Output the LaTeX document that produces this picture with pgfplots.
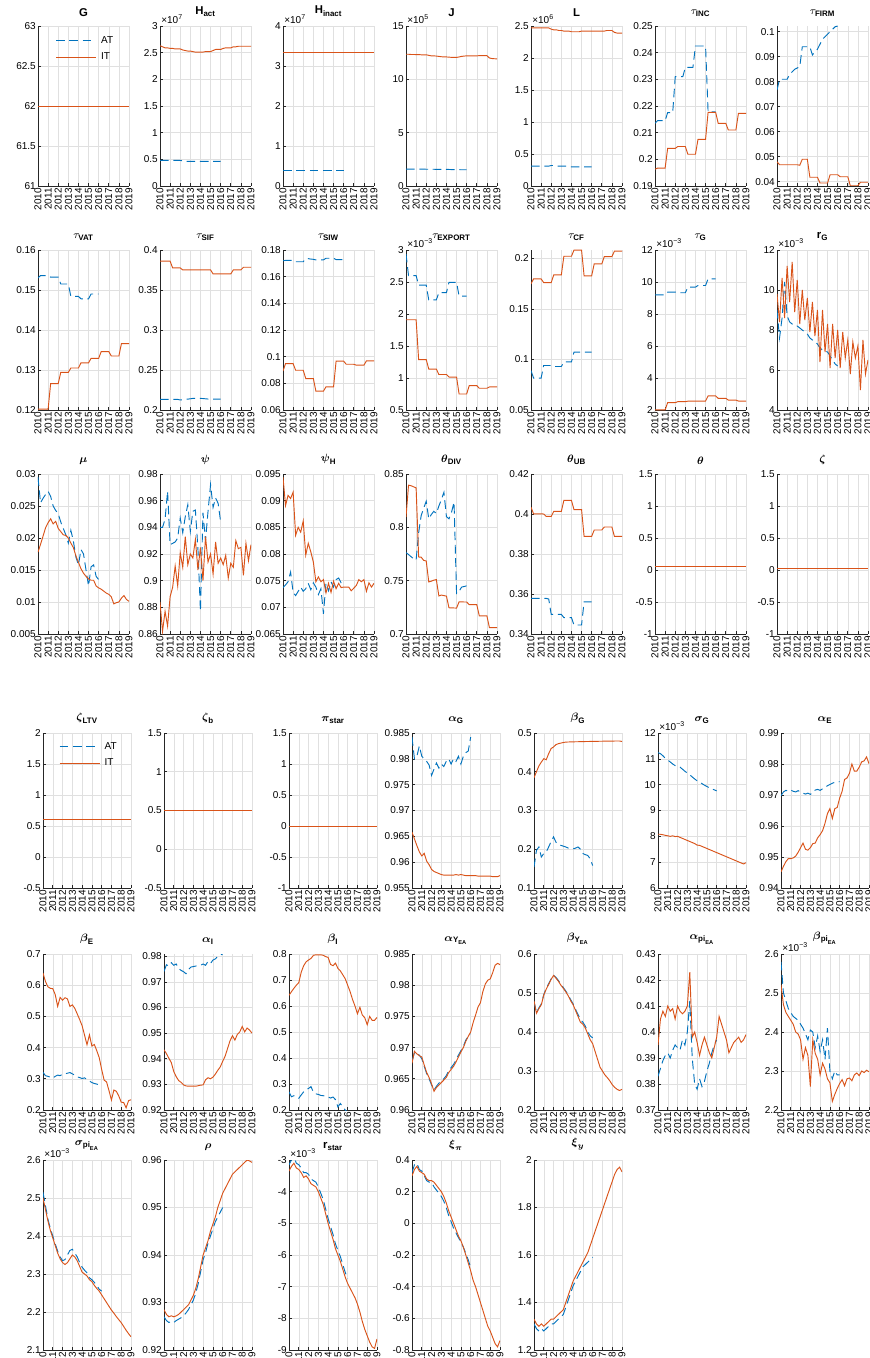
\documentclass[border=0pt]{standalone}
\usepackage{amsmath}
\usepackage{fontspec}
\setmainfont{Liberation Sans}
\usepackage{pgfplots}
\pgfplotsset{compat=1.18}

\definecolor{cAT}{RGB}{0,114,189}
\definecolor{cIT}{RGB}{217,83,25}

\newcommand{\tk}{\fontsize{7.5}{8}\selectfont}
\newcommand{\ttl}{\fontsize{8.5}{9}\selectfont\bfseries}

% quarterly series 2010Q1 ... given as a comma list of values
\newcommand{\mkcoords}[1]{%
  \gdef\qcoords{}%
  \foreach \qv [count=\qi from 0] in {#1}{%
    \pgfmathsetmacro{\qx}{2010+0.25*\qi}%
    \xdef\qcoords{\qcoords (\qx,\qv)}%
  }}
\newcommand{\IT}[1]{\mkcoords{#1}\edef\qtmp{\noexpand\addplot[itline] coordinates {\qcoords};}\qtmp}
\newcommand{\AT}[1]{\mkcoords{#1}\edef\qtmp{\noexpand\addplot[atline] coordinates {\qcoords};}\qtmp}
\newcommand{\ITc}[1]{\addplot[itline] coordinates {(2010,#1) (2019,#1)};}
\newcommand{\ATc}[1]{\addplot[atline] coordinates {(2010,#1) (2016,#1)};}
\newcommand{\expo}[1]{\node[anchor=base west, inner sep=0pt, font=\tk] at ([xshift=0.8pt,yshift=2pt]rel axis cs:0,1) {×10\textsuperscript{#1}};}

\pgfplotsset{
  itline/.style={color=cIT, line width=0.7pt, solid, mark=none},
  atline/.style={color=cAT, line width=0.7pt, dash pattern=on 6.5pt off 3.5pt, mark=none},
  pos/.style 2 args={at={(#1*0.75pt,-#2*0.75pt)}},
  base/.style={
    scale only axis, anchor=north west, clip mode=individual,
    xmin=2010, xmax=2019, xtick={2010,2011,2012,2013,2014,2015,2016,2017,2018,2019},
    axis x line*=bottom, axis y line*=left,
    axis line style={-, draw=black!85, line width=0.5pt},
    tick align=inside, major tick length=2pt,
    tick style={black!85, line width=0.5pt},
    grid=major, grid style={black!12, line width=0.4pt},
    /pgf/number format/assume math mode=true,
    xticklabel style={rotate=90, anchor=east, font=\tk, inner sep=1.5pt,
      /pgf/number format/1000 sep={}},
    yticklabel style={font=\tk, inner sep=1.5pt,
      /pgf/number format/fixed, /pgf/number format/precision=4},
    title style={font=\ttl, at={(0.5,1)}, anchor=south, yshift=1.2pt, inner sep=0pt},
    enlargelimits=false, scaled y ticks=false,
    legend image code/.code={\draw[##1] (0pt,0pt) -- (30pt,0pt);},
    legend style={draw=none, fill=none, font=\tk, anchor=north west, inner sep=0pt,
      row sep=2pt, column sep=1.5pt, cells={anchor=west}},
  },
  fA/.style={base, width=68.25pt, height=120pt},
  fB/.style={base, width=66pt, height=116.25pt},
  fC/.style={base, width=66pt, height=117pt},
  fD/.style={base, width=66pt, height=142.5pt},
}

\begin{document}
\begin{tikzpicture}
\path[use as bounding box] (0pt,0pt) rectangle (651.75pt,-1018.5pt);

% ---------------- first block ----------------
\begin{axis}[fA, pos={38}{26}, title={G}, ymin=61, ymax=63, ytick={61,61.5,62,62.5,63},
  legend style={at={(0.19,0.955)}}]
\ATc{62}
\ITc{62}
\legend{AT,IT}
\end{axis}

\begin{axis}[fA, pos={160}{26}, title={$\textbf{H}_{\textbf{act}}$}, ymin=0, ymax=3, ytick={0,0.5,1,1.5,2,2.5,3}]
\AT{0.48,0.48,0.48,0.48,0.48,0.48,0.48,0.48,0.48,0.47,0.46,0.46,0.46,0.46,0.46,0.46,0.46,0.46,0.46,0.46,0.46,0.46,0.46,0.46,0.46}
\IT{2.63,2.61,2.59,2.59,2.58,2.58,2.57,2.57,2.57,2.55,2.54,2.53,2.53,2.52,2.51,2.51,2.51,2.51,2.52,2.52,2.52,2.54,2.56,2.56,2.56,2.58,2.59,2.59,2.59,2.61,2.61,2.62,2.62,2.62,2.62,2.62,2.62}
\expo{7}
\end{axis}

\begin{axis}[fA, pos={283}{26}, title={$\textbf{H}_{\textbf{inact}}$}, ymin=0, ymax=4, ytick={0,1,2,3,4}]
\ATc{0.40}
\ITc{3.35}
\expo{7}
\end{axis}

\begin{axis}[fA, pos={406}{26}, title={J}, ymin=0, ymax=15, ytick={0,5,10,15}]
\AT{1.58,1.58,1.58,1.58,1.58,1.58,1.58,1.58,1.57,1.57,1.57,1.57,1.56,1.56,1.56,1.56,1.55,1.55,1.54,1.54,1.53,1.53,1.52,1.52,1.52}
\IT{12.35,12.35,12.33,12.33,12.32,12.32,12.30,12.30,12.30,12.25,12.20,12.20,12.18,12.15,12.12,12.10,12.10,12.08,12.06,12.05,12.05,12.10,12.15,12.18,12.20,12.20,12.20,12.20,12.20,12.22,12.22,12.22,12.22,12.00,11.95,11.93,11.92}
\expo{5}
\end{axis}

\begin{axis}[fA, pos={531}{26}, title={L}, ymin=0, ymax=2.5, ytick={0,0.5,1,1.5,2,2.5}]
\AT{0.31,0.31,0.31,0.31,0.31,0.31,0.31,0.31,0.32,0.32,0.31,0.31,0.31,0.31,0.31,0.30,0.30,0.30,0.30,0.30,0.30,0.30,0.30,0.30,0.30}
\IT{2.47,2.47,2.47,2.47,2.47,2.47,2.47,2.47,2.45,2.44,2.44,2.43,2.43,2.42,2.42,2.42,2.41,2.41,2.41,2.41,2.42,2.42,2.42,2.42,2.42,2.42,2.42,2.42,2.42,2.42,2.43,2.43,2.43,2.40,2.39,2.39,2.39}
\expo{6}
\end{axis}

\begin{axis}[fA, pos={655}{26}, title={$\tau_{\textbf{INC}}$}, ymin=0.19, ymax=0.25, ytick={0.19,0.2,0.21,0.22,0.23,0.24,0.25}]
\AT{0.2135,0.2145,0.2145,0.2145,0.2145,0.2175,0.2175,0.2175,0.2310,0.2310,0.2310,0.2310,0.2345,0.2345,0.2345,0.2345,0.2425,0.2425,0.2425,0.2425,0.2425,0.2178,0.2178,0.2178,0.2178}
\IT{0.1963,0.1967,0.1967,0.1967,0.1967,0.2041,0.2041,0.2041,0.2041,0.2048,0.2048,0.2048,0.2048,0.2019,0.2019,0.2019,0.2019,0.2075,0.2075,0.2075,0.2075,0.2176,0.2176,0.2176,0.2176,0.2135,0.2135,0.2135,0.2135,0.2110,0.2110,0.2110,0.2110,0.2172,0.2172,0.2172,0.2172}
\end{axis}

\begin{axis}[fA, pos={777}{26}, title={$\tau_{\textbf{FIRM}}$}, ymin=0.0383, ymax=0.1023, ytick={0.04,0.05,0.06,0.07,0.08,0.09,0.1}]
\AT{0.0767,0.0810,0.0810,0.0810,0.0810,0.0830,0.0840,0.0850,0.0855,0.0860,0.0940,0.0940,0.0940,0.0940,0.0907,0.0920,0.0930,0.0950,0.0970,0.0980,0.0990,0.1000,0.1010,0.1020,0.1023}
\IT{0.0480,0.0468,0.0468,0.0468,0.0468,0.0468,0.0468,0.0468,0.0468,0.0466,0.0490,0.0490,0.0490,0.0418,0.0418,0.0418,0.0418,0.0395,0.0395,0.0395,0.0395,0.0428,0.0428,0.0428,0.0428,0.0420,0.0420,0.0420,0.0420,0.0384,0.0384,0.0384,0.0384,0.0398,0.0398,0.0398,0.0398}
\end{axis}

% row 2
\begin{axis}[fA, pos={38}{250}, title={$\tau_{\textbf{VAT}}$}, ymin=0.12, ymax=0.16, ytick={0.12,0.13,0.14,0.15,0.16}]
\AT{0.1530,0.1536,0.1536,0.1536,0.1536,0.1532,0.1532,0.1532,0.1532,0.1515,0.1515,0.1515,0.1515,0.1484,0.1484,0.1484,0.1484,0.1478,0.1478,0.1478,0.1478,0.1490,0.1490,0.1490,0.1490}
\IT{0.1202,0.1202,0.1202,0.1202,0.1202,0.1266,0.1266,0.1266,0.1266,0.1294,0.1294,0.1294,0.1294,0.1305,0.1305,0.1305,0.1305,0.1318,0.1318,0.1318,0.1318,0.1329,0.1329,0.1329,0.1329,0.1346,0.1346,0.1346,0.1346,0.1335,0.1335,0.1335,0.1335,0.1366,0.1366,0.1366,0.1366}
\end{axis}

\begin{axis}[fA, pos={160}{250}, title={$\tau_{\textbf{SIF}}$}, ymin=0.2, ymax=0.4, ytick={0.2,0.25,0.3,0.35,0.4}]
\AT{0.2133,0.2133,0.2133,0.2133,0.2133,0.2133,0.2133,0.2133,0.2125,0.2128,0.2133,0.2136,0.2140,0.2145,0.2145,0.2145,0.2145,0.2143,0.2140,0.2137,0.2135,0.2135,0.2135,0.2135,0.2135}
\IT{0.386,0.386,0.386,0.386,0.386,0.3776,0.3776,0.3776,0.3776,0.3751,0.3751,0.3751,0.3751,0.3751,0.3751,0.3751,0.3751,0.3751,0.3751,0.3751,0.3751,0.3701,0.3701,0.3701,0.3701,0.3701,0.3701,0.3701,0.3701,0.3751,0.3751,0.3751,0.3751,0.3784,0.3784,0.3784,0.3784}
\end{axis}

\begin{axis}[fA, pos={283}{250}, title={$\tau_{\textbf{SIW}}$}, ymin=0.06, ymax=0.18, ytick={0.06,0.08,0.1,0.12,0.14,0.16,0.18}]
\AT{0.1720,0.1722,0.1722,0.1722,0.1722,0.1712,0.1712,0.1712,0.1712,0.1735,0.1735,0.1732,0.1730,0.1726,0.1726,0.1726,0.1726,0.1738,0.1738,0.1738,0.1738,0.1728,0.1728,0.1728,0.1728}
\IT{0.0893,0.0948,0.0948,0.0948,0.0948,0.0898,0.0898,0.0898,0.0898,0.0836,0.0836,0.0836,0.0836,0.0741,0.0741,0.0741,0.0741,0.0774,0.0774,0.0774,0.0774,0.0966,0.0966,0.0966,0.0966,0.0943,0.0943,0.0943,0.0943,0.0936,0.0936,0.0936,0.0936,0.0968,0.0968,0.0968,0.0968}
\end{axis}

\begin{axis}[fA, pos={406}{250}, title={$\tau_{\textbf{EXPORT}}$}, ymin=0.5, ymax=3, ytick={0.5,1,1.5,2,2.5,3}]
\AT{2.94,2.6,2.6,2.6,2.6,2.45,2.45,2.45,2.45,2.22,2.22,2.22,2.22,2.335,2.335,2.335,2.335,2.495,2.495,2.495,2.495,2.28,2.28,2.28,2.28}
\IT{1.91,1.91,1.91,1.91,1.91,1.288,1.288,1.288,1.288,1.14,1.14,1.14,1.14,1.055,1.055,1.055,1.055,1.015,1.015,1.015,1.015,0.75,0.75,0.75,0.75,0.88,0.88,0.88,0.88,0.84,0.84,0.84,0.84,0.86,0.86,0.86,0.86}
\expo{−3}
\end{axis}

\begin{axis}[fA, pos={531}{250}, title={$\tau_{\textbf{CF}}$}, ymin=0.05, ymax=0.2082, ytick={0.05,0.1,0.15,0.2}]
\AT{0.089,0.0816,0.0816,0.0816,0.0816,0.094,0.094,0.094,0.094,0.093,0.093,0.093,0.093,0.0975,0.0975,0.0975,0.0975,0.1072,0.1072,0.1072,0.1072,0.1072,0.1072,0.1072,0.1072}
\IT{0.1747,0.1796,0.1796,0.1796,0.1796,0.176,0.176,0.176,0.176,0.1836,0.1836,0.1836,0.1836,0.202,0.202,0.202,0.202,0.2081,0.2081,0.2081,0.2081,0.1827,0.1827,0.1827,0.1827,0.1945,0.1945,0.1945,0.1945,0.2017,0.2017,0.2017,0.2017,0.207,0.207,0.207,0.207}
\end{axis}

\begin{axis}[fA, pos={655}{250}, title={$\tau_{\textbf{G}}$}, ymin=2, ymax=12, ytick={2,4,6,8,10,12}]
\AT{9.2,9.2,9.2,9.2,9.2,9.37,9.37,9.37,9.37,9.33,9.33,9.33,9.33,9.68,9.68,9.68,9.68,9.78,9.78,9.78,9.78,10.2,10.2,10.2,10.2}
\IT{2.01,2.01,2.01,2.01,2.01,2.46,2.46,2.46,2.46,2.52,2.52,2.52,2.52,2.55,2.55,2.55,2.55,2.56,2.56,2.56,2.56,2.88,2.88,2.88,2.88,2.73,2.73,2.73,2.73,2.62,2.62,2.62,2.62,2.56,2.56,2.56,2.56}
\expo{−3}
\end{axis}

\begin{axis}[fA, pos={777}{250}, title={$\textbf{r}_{\textbf{G}}$}, ymin=4, ymax=12, ytick={4,6,8,10,12}]
\AT{9.0,7.6,8.6,10.4,8.7,8.4,8.3,8.2,8.2,8.1,8.0,7.9,7.8,7.6,7.5,7.4,7.3,7.1,7.0,6.95,6.9,6.7,6.5,6.3,6.2}
\IT{9.8,8.4,10.6,8.6,11.2,9.4,11.4,8.9,10.5,8.3,10.0,8.5,9.6,7.9,9.4,7.7,9.0,6.4,9.0,6.9,8.3,6.1,8.3,6.6,8.0,6.1,7.9,6.6,7.5,5.8,7.4,6.6,7.2,5.0,7.5,5.8,6.5}
\expo{−3}
\end{axis}

% row 3
\begin{axis}[fA, pos={38}{474}, title={$\boldsymbol{\mu}$}, ymin=0.005, ymax=0.03, ytick={0.005,0.01,0.015,0.02,0.025,0.03}]
\AT{0.0295,0.0255,0.0262,0.0268,0.0273,0.0265,0.0250,0.0243,0.0238,0.0225,0.0215,0.0205,0.0192,0.0212,0.0195,0.0170,0.0158,0.0182,0.0175,0.0150,0.0125,0.0155,0.0158,0.0140,0.0135}
\IT{0.0178,0.0190,0.0203,0.0216,0.0224,0.0230,0.0222,0.0226,0.0215,0.0210,0.0205,0.0204,0.0200,0.0192,0.0185,0.0172,0.0162,0.0152,0.0145,0.0140,0.0136,0.0134,0.0134,0.0125,0.0122,0.0120,0.0117,0.0114,0.0112,0.0108,0.0097,0.0099,0.0100,0.0106,0.0110,0.0104,0.0101}
\end{axis}

\begin{axis}[fA, pos={160}{474}, title={$\boldsymbol{\psi}$}, ymin=0.86, ymax=0.98, ytick={0.86,0.88,0.9,0.92,0.94,0.96,0.98}]
\AT{0.940,0.940,0.946,0.967,0.927,0.928,0.929,0.932,0.947,0.936,0.948,0.957,0.937,0.952,0.953,0.924,0.877,0.951,0.930,0.952,0.972,0.955,0.962,0.958,0.944}
\IT{0.884,0.862,0.877,0.866,0.888,0.895,0.911,0.896,0.921,0.910,0.933,0.912,0.920,0.917,0.931,0.908,0.925,0.900,0.933,0.914,0.920,0.905,0.929,0.913,0.917,0.912,0.919,0.902,0.913,0.910,0.930,0.924,0.925,0.904,0.928,0.915,0.927}
\end{axis}

\begin{axis}[fA, pos={283}{474}, title={$\boldsymbol{\psi}_{\textbf{H}}$}, ymin=0.065, ymax=0.095, ytick={0.065,0.07,0.075,0.08,0.085,0.09,0.095}]
\AT{0.0737,0.0742,0.0748,0.0766,0.0728,0.0722,0.0730,0.0738,0.0730,0.0735,0.0745,0.0733,0.0746,0.0738,0.0724,0.0735,0.0688,0.0745,0.0731,0.0748,0.0738,0.0752,0.0755,0.0746,0.0746}
\IT{0.0944,0.0891,0.0910,0.0904,0.0916,0.0835,0.0850,0.0841,0.0862,0.0798,0.0820,0.0804,0.0785,0.0748,0.0757,0.0748,0.0752,0.0727,0.0745,0.0728,0.0749,0.0735,0.0745,0.0737,0.0738,0.0738,0.0738,0.0731,0.0736,0.0741,0.0752,0.0748,0.0752,0.0730,0.0746,0.0738,0.0745}
\end{axis}

\begin{axis}[fA, pos={406}{474}, title={$\boldsymbol{\theta}_{\textbf{DIV}}$}, ymin=0.7, ymax=0.85, ytick={0.7,0.75,0.8,0.85}]
\AT{0.7763,0.7745,0.7725,0.7705,0.7693,0.7950,0.8110,0.8180,0.8245,0.8080,0.8120,0.8150,0.8130,0.8200,0.8260,0.8329,0.8100,0.8080,0.8140,0.8236,0.7380,0.7400,0.7440,0.7445,0.7452}
\IT{0.8095,0.8395,0.8390,0.8380,0.8370,0.7722,0.7720,0.7690,0.7685,0.7488,0.7495,0.7505,0.7510,0.7357,0.7365,0.7360,0.7355,0.7246,0.7245,0.7244,0.7243,0.7302,0.7302,0.7300,0.7300,0.7275,0.7275,0.7275,0.7275,0.7170,0.7170,0.7170,0.7170,0.7060,0.7060,0.7060,0.7060}
\end{axis}

\begin{axis}[fA, pos={531}{474}, title={$\boldsymbol{\theta}_{\textbf{UB}}$}, ymin=0.34, ymax=0.42, ytick={0.34,0.36,0.38,0.4,0.42}]
\AT{0.3578,0.3578,0.3578,0.3578,0.3578,0.3578,0.3578,0.3575,0.3498,0.3498,0.3498,0.3498,0.3498,0.3482,0.3482,0.3482,0.3482,0.3445,0.3445,0.3445,0.3445,0.3561,0.3561,0.3561,0.3561}
\IT{0.4034,0.4001,0.4001,0.4001,0.4001,0.4000,0.3988,0.3988,0.3988,0.4013,0.4013,0.4013,0.4013,0.4068,0.4068,0.4068,0.4068,0.4022,0.4022,0.4022,0.4022,0.3888,0.3888,0.3888,0.3888,0.3920,0.3920,0.3920,0.3920,0.3935,0.3935,0.3935,0.3935,0.3888,0.3888,0.3888,0.3888}
\end{axis}

\begin{axis}[fA, pos={655}{474}, title={$\boldsymbol{\theta}$}, ymin=-1, ymax=1.5, ytick={-1,-0.5,0,0.5,1,1.5}]
\ATc{0.05}
\ITc{0.05}
\end{axis}

\begin{axis}[fA, pos={777}{474}, title={$\boldsymbol{\zeta}$}, ymin=-1, ymax=1.5, ytick={-1,-0.5,0,0.5,1,1.5}]
\ATc{0.03}
\ITc{0.03}
\end{axis}

% ---------------- second block ----------------
\begin{axis}[fB, pos={43}{733}, title={$\boldsymbol{\zeta}_{\textbf{LTV}}$}, ymin=-0.5, ymax=2, ytick={-0.5,0,0.5,1,1.5,2},
  legend style={at={(0.18,0.96)}}]
\ATc{0.6}
\ITc{0.6}
\legend{AT,IT}
\end{axis}

\begin{axis}[fB, pos={164}{733}, title={$\boldsymbol{\zeta}_{\textbf{b}}$}, ymin=-0.5, ymax=1.5, ytick={-0.5,0,0.5,1,1.5}]
\ATc{0.5}
\ITc{0.5}
\end{axis}

\begin{axis}[fB, pos={289}{733}, title={$\boldsymbol{\pi}_{\textbf{star}}$}, ymin=-1, ymax=1.5, ytick={-1,-0.5,0,0.5,1,1.5}]
\ATc{0}
\ITc{0}
\end{axis}

\begin{axis}[fB, pos={412}{733}, title={$\boldsymbol{\alpha}_{\textbf{G}}$}, ymin=0.955, ymax=0.985, ytick={0.955,0.96,0.965,0.97,0.975,0.98,0.985}]
\AT{0.9842,0.9800,0.9805,0.9825,0.9805,0.9800,0.9795,0.9788,0.9768,0.9780,0.9792,0.9782,0.9790,0.9785,0.9795,0.9800,0.9790,0.9800,0.9795,0.9805,0.9790,0.9805,0.9812,0.9815,0.9842}
\IT{0.9658,0.9645,0.9632,0.9620,0.9612,0.9617,0.9602,0.9595,0.9586,0.9582,0.9580,0.9578,0.9576,0.9575,0.9575,0.9575,0.9575,0.9575,0.9576,0.9575,0.9576,0.9575,0.9574,0.9574,0.9574,0.9574,0.9574,0.9573,0.9573,0.9573,0.9573,0.9573,0.9573,0.9572,0.9572,0.9572,0.9574}
\end{axis}

\begin{axis}[fB, pos={534}{733}, title={$\boldsymbol{\beta}_{\textbf{G}}$}, ymin=0.1, ymax=0.5, ytick={0.1,0.2,0.3,0.4,0.5}]
\AT{0.154,0.197,0.206,0.180,0.189,0.193,0.206,0.220,0.232,0.218,0.214,0.210,0.208,0.206,0.203,0.2015,0.201,0.203,0.206,0.200,0.189,0.186,0.184,0.175,0.158}
\IT{0.3847,0.4000,0.4150,0.4250,0.4338,0.4310,0.4467,0.4600,0.4640,0.4700,0.4725,0.4740,0.4755,0.4765,0.4768,0.4770,0.4772,0.4774,0.4775,0.4777,0.4778,0.4780,0.4781,0.4782,0.4783,0.4785,0.4786,0.4787,0.4788,0.4789,0.4790,0.4791,0.4792,0.4793,0.4794,0.4794,0.4780}
\end{axis}

\begin{axis}[fB, pos={658}{733}, title={$\boldsymbol{\sigma}_{\textbf{G}}$}, ymin=6, ymax=12, ytick={6,7,8,9,10,11,12}]
\AT{11.24,11.20,11.12,11.02,10.95,10.88,10.80,10.74,10.70,10.68,10.60,10.52,10.45,10.38,10.30,10.22,10.15,10.10,10.04,9.98,9.93,9.88,9.84,9.80,9.76}
\IT{8.08,8.08,8.06,8.04,8.02,8.00,8.02,7.99,8.00,7.96,7.92,7.88,7.84,7.80,7.76,7.72,7.66,7.65,7.61,7.57,7.53,7.49,7.45,7.41,7.37,7.33,7.29,7.25,7.21,7.17,7.13,7.09,7.05,7.01,6.97,6.93,6.98}
\expo{−3}
\end{axis}

\begin{axis}[fB, pos={781}{733}, title={$\boldsymbol{\alpha}_{\textbf{E}}$}, ymin=0.94, ymax=0.99, ytick={0.94,0.95,0.96,0.97,0.98,0.99}]
\AT{0.9698,0.9710,0.9715,0.9712,0.9716,0.9712,0.9710,0.9714,0.9710,0.9706,0.9703,0.9706,0.9702,0.9708,0.9716,0.9718,0.9715,0.9720,0.9724,0.9730,0.9734,0.9738,0.9741,0.9742,0.9743}
\IT{0.9452,0.9470,0.9485,0.9495,0.9495,0.9497,0.9503,0.9515,0.9530,0.9545,0.9525,0.9522,0.9530,0.9543,0.9545,0.9562,0.9572,0.9585,0.9609,0.9640,0.9656,0.9624,0.9656,0.9660,0.9690,0.9712,0.9750,0.9755,0.9770,0.9800,0.9777,0.9777,0.9790,0.9807,0.9810,0.9823,0.9801}
\end{axis}

% row 5
\begin{axis}[fC, pos={43}{954}, title={$\boldsymbol{\beta}_{\textbf{E}}$}, ymin=0.2, ymax=0.7, ytick={0.2,0.3,0.4,0.5,0.6,0.7}]
\AT{0.321,0.310,0.308,0.305,0.302,0.308,0.312,0.310,0.315,0.316,0.318,0.320,0.316,0.312,0.306,0.304,0.301,0.303,0.298,0.293,0.288,0.285,0.283,0.281,0.280}
\IT{0.639,0.612,0.595,0.590,0.589,0.570,0.532,0.561,0.552,0.560,0.556,0.532,0.537,0.526,0.508,0.490,0.470,0.440,0.409,0.441,0.405,0.410,0.390,0.368,0.330,0.296,0.290,0.262,0.232,0.264,0.260,0.245,0.225,0.224,0.207,0.230,0.233}
\end{axis}

\begin{axis}[fC, pos={164}{954}, title={$\boldsymbol{\alpha}_{\textbf{I}}$}, ymin=0.92, ymax=0.9809, ytick={0.92,0.93,0.94,0.95,0.96,0.97,0.98}]
\AT{0.9741,0.9767,0.9762,0.9775,0.9765,0.9770,0.9752,0.9745,0.9740,0.9732,0.9748,0.9758,0.9760,0.9762,0.9763,0.9765,0.9770,0.9765,0.9780,0.9772,0.9785,0.9790,0.9800,0.9805,0.9809}
\IT{0.9435,0.9420,0.9402,0.9385,0.9350,0.9330,0.9315,0.9308,0.9298,0.9294,0.9293,0.9293,0.9293,0.9293,0.9295,0.9297,0.9298,0.9318,0.9326,0.9322,0.9328,0.9340,0.9355,0.9368,0.9390,0.9410,0.9440,0.9470,0.9490,0.9473,0.9495,0.9505,0.9526,0.9505,0.9520,0.9512,0.9500}
\end{axis}

\begin{axis}[fC, pos={289}{954}, title={$\boldsymbol{\beta}_{\textbf{I}}$}, ymin=0.2, ymax=0.8, ytick={0.2,0.3,0.4,0.5,0.6,0.7,0.8}]
\AT{0.270,0.251,0.255,0.250,0.245,0.258,0.270,0.278,0.283,0.290,0.268,0.262,0.260,0.256,0.255,0.253,0.250,0.246,0.250,0.240,0.212,0.225,0.212,0.200,0.190}
\IT{0.641,0.655,0.668,0.680,0.690,0.730,0.755,0.770,0.777,0.783,0.795,0.797,0.797,0.797,0.795,0.790,0.787,0.760,0.755,0.765,0.745,0.735,0.720,0.705,0.680,0.655,0.625,0.600,0.570,0.595,0.565,0.555,0.528,0.560,0.545,0.545,0.556}
\end{axis}

\begin{axis}[fC, pos={412}{954}, title={$\boldsymbol{\alpha}_{\textbf{Y}_{\textbf{EA}}}$}, ymin=0.96, ymax=0.985, ytick={0.96,0.965,0.97,0.975,0.98,0.985}]
\AT{0.9678,0.9692,0.9690,0.9688,0.9682,0.9670,0.9658,0.9650,0.9640,0.9632,0.9638,0.9643,0.9646,0.9650,0.9655,0.9663,0.9668,0.9673,0.9680,0.9688,0.9695,0.9702,0.9712,0.9718,0.9722}
\IT{0.9675,0.9694,0.9690,0.9687,0.9685,0.9672,0.9660,0.9652,0.9642,0.9630,0.9636,0.9640,0.9644,0.9648,0.9652,0.9660,0.9665,0.9670,0.9677,0.9685,0.9693,0.9700,0.9710,0.9718,0.9725,0.9740,0.9752,0.9765,0.9772,0.9790,0.9802,0.9808,0.9810,0.9820,0.9832,0.9835,0.9833}
\end{axis}

\begin{axis}[fC, pos={534}{954}, title={$\boldsymbol{\beta}_{\textbf{Y}_{\textbf{EA}}}$}, ymin=0.2, ymax=0.6, ytick={0.2,0.3,0.4,0.5,0.6}]
\AT{0.478,0.450,0.462,0.472,0.496,0.512,0.524,0.536,0.546,0.540,0.532,0.522,0.514,0.505,0.495,0.483,0.472,0.458,0.445,0.432,0.425,0.415,0.400,0.390,0.385}
\IT{0.480,0.448,0.460,0.470,0.495,0.510,0.522,0.535,0.545,0.538,0.530,0.520,0.512,0.503,0.493,0.480,0.470,0.455,0.440,0.425,0.420,0.410,0.395,0.380,0.370,0.350,0.330,0.310,0.300,0.290,0.283,0.275,0.265,0.258,0.253,0.250,0.253}
\end{axis}

\begin{axis}[fC, pos={658}{954}, title={$\boldsymbol{\alpha}_{\textbf{pi}_{\textbf{EA}}}$}, ymin=0.37, ymax=0.43, ytick={0.37,0.38,0.39,0.4,0.41,0.42,0.43}]
\AT{0.383,0.386,0.389,0.391,0.392,0.390,0.393,0.395,0.394,0.393,0.397,0.395,0.400,0.412,0.390,0.380,0.378,0.382,0.379,0.381,0.385,0.388,0.392,0.395,0.397}
\IT{0.395,0.405,0.408,0.406,0.410,0.408,0.409,0.405,0.410,0.408,0.407,0.408,0.410,0.423,0.398,0.400,0.396,0.391,0.395,0.398,0.395,0.392,0.390,0.394,0.398,0.406,0.403,0.400,0.397,0.392,0.394,0.396,0.397,0.398,0.396,0.397,0.399}
\end{axis}

\begin{axis}[fC, pos={781}{954}, title={$\boldsymbol{\beta}_{\textbf{pi}_{\textbf{EA}}}$}, ymin=2.2, ymax=2.6, ytick={2.2,2.3,2.4,2.5,2.6}]
\AT{2.580,2.500,2.480,2.460,2.450,2.440,2.435,2.430,2.420,2.410,2.395,2.380,2.405,2.400,2.360,2.390,2.350,2.380,2.330,2.410,2.300,2.280,2.300,2.290,2.290}
\IT{2.520,2.470,2.450,2.440,2.430,2.420,2.400,2.395,2.380,2.330,2.360,2.340,2.260,2.380,2.345,2.330,2.290,2.320,2.305,2.280,2.270,2.222,2.240,2.255,2.268,2.278,2.262,2.280,2.282,2.275,2.290,2.295,2.288,2.300,2.296,2.302,2.298}
\expo{−3}
\end{axis}

% row 6
\begin{axis}[fD, pos={43}{1160}, title={$\boldsymbol{\sigma}_{\textbf{pi}_{\textbf{EA}}}$}, ymin=2.1, ymax=2.6, ytick={2.1,2.2,2.3,2.4,2.5,2.6}]
\AT{2.515,2.480,2.445,2.420,2.400,2.380,2.360,2.345,2.335,2.338,2.350,2.362,2.365,2.355,2.345,2.330,2.318,2.310,2.303,2.290,2.285,2.278,2.270,2.260,2.255}
\IT{2.500,2.470,2.440,2.415,2.395,2.375,2.355,2.340,2.330,2.325,2.330,2.340,2.350,2.345,2.335,2.320,2.305,2.300,2.295,2.285,2.280,2.270,2.262,2.255,2.245,2.235,2.225,2.215,2.205,2.197,2.188,2.180,2.172,2.162,2.152,2.143,2.135}
\expo{−3}
\end{axis}

\begin{axis}[fD, pos={164}{1160}, title={$\boldsymbol{\rho}$}, ymin=0.92, ymax=0.96, ytick={0.92,0.93,0.94,0.95,0.96}]
\AT{0.9270,0.9262,0.9258,0.9260,0.9258,0.9262,0.9265,0.9268,0.9272,0.9278,0.9285,0.9295,0.9305,0.9320,0.9340,0.9365,0.9390,0.9405,0.9425,0.9440,0.9455,0.9470,0.9480,0.9490,0.9500}
\IT{0.9285,0.9275,0.9270,0.9272,0.9270,0.9272,0.9275,0.9280,0.9285,0.9290,0.9295,0.9305,0.9315,0.9330,0.9350,0.9375,0.9400,0.9415,0.9430,0.9450,0.9465,0.9480,0.9500,0.9515,0.9530,0.9540,0.9550,0.9560,0.9570,0.9575,0.9580,0.9585,0.9590,0.9595,0.9600,0.9598,0.9595}
\end{axis}

\begin{axis}[fD, pos={289}{1160}, title={$\textbf{r}_{\textbf{star}}$}, ymin=-9, ymax=-3, ytick={-9,-8,-7,-6,-5,-4,-3}]
\AT{-3.15,-3.00,-2.90,-3.10,-3.15,-3.25,-3.40,-3.40,-3.45,-3.60,-3.65,-3.70,-3.85,-4.05,-4.25,-4.55,-4.85,-5.10,-5.35,-5.65,-5.85,-6.05,-6.30,-6.55,-6.75}
\IT{-3.35,-3.20,-3.10,-3.25,-3.30,-3.40,-3.55,-3.50,-3.60,-3.75,-3.80,-3.85,-4.00,-4.20,-4.40,-4.70,-5.00,-5.25,-5.50,-5.80,-6.00,-6.20,-6.45,-6.70,-6.90,-7.05,-7.20,-7.35,-7.55,-7.80,-8.10,-8.35,-8.55,-8.75,-8.90,-8.95,-8.65}
\expo{−3}
\end{axis}

\begin{axis}[fD, pos={412}{1160}, title={$\boldsymbol{\xi}_{\boldsymbol{\pi}}$}, ymin=-0.8, ymax=0.4, ytick={-0.8,-0.6,-0.4,-0.2,0,0.2,0.4}]
\AT{0.32,0.37,0.38,0.34,0.33,0.30,0.27,0.26,0.26,0.23,0.21,0.19,0.17,0.14,0.10,0.05,0.01,-0.03,-0.06,-0.09,-0.12,-0.15,-0.19,-0.23,-0.28}
\IT{0.30,0.34,0.36,0.33,0.32,0.31,0.28,0.27,0.27,0.26,0.24,0.22,0.20,0.17,0.13,0.08,0.04,0.00,-0.04,-0.08,-0.11,-0.15,-0.20,-0.25,-0.30,-0.36,-0.40,-0.45,-0.50,-0.55,-0.60,-0.65,-0.68,-0.72,-0.76,-0.78,-0.74}
\end{axis}

\begin{axis}[fD, pos={534}{1160}, title={$\boldsymbol{\xi}_{\boldsymbol{y}}$}, ymin=1.2, ymax=2, ytick={1.2,1.4,1.6,1.8,2}]
\AT{1.31,1.29,1.28,1.29,1.28,1.29,1.30,1.31,1.31,1.32,1.33,1.34,1.35,1.38,1.41,1.44,1.47,1.49,1.51,1.53,1.55,1.56,1.57,1.58,1.59}
\IT{1.33,1.31,1.30,1.31,1.30,1.31,1.32,1.33,1.33,1.34,1.35,1.36,1.37,1.40,1.43,1.46,1.49,1.51,1.53,1.55,1.57,1.59,1.61,1.64,1.67,1.70,1.73,1.76,1.79,1.82,1.85,1.88,1.91,1.94,1.96,1.97,1.95}
\end{axis}

\end{tikzpicture}
\end{document}
